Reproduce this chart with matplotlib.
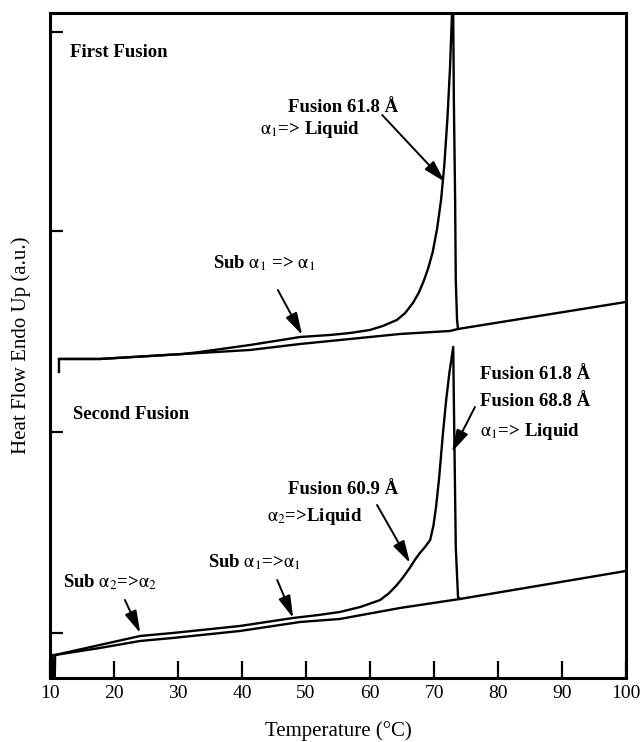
#------------------------------------------------------------------------------------------
## IMPORT MODULES ##
#------------------------------------------------------------------------------------------

import matplotlib
matplotlib.use("Agg")
import matplotlib.pyplot as plt
import numpy as np

#------------------------------------------------------------------------------------------
## DSC TRACES (temperature in °C, heat flow in arbitrary units) ##
#------------------------------------------------------------------------------------------

## FIRST FUSION ##

# Heat flow curve of the first heating
T_first = [11.4, 11.4, 17.8, 23.0, 30.8, 33.4, 41.25, 45.2, 49.1, 53.75, 56.9, 60.0, 62.0, 64.2,
           65.5, 66.7, 67.6, 68.4, 69.1, 69.8, 70.5, 71.1, 71.6, 72.1, 72.5, 72.8, 73.0, 73.1,
           73.3, 73.4, 73.6, 73.75, 100.0]
H_first = [3.06, 3.19, 3.19, 3.21, 3.24, 3.26, 3.33, 3.37, 3.41, 3.43, 3.45, 3.48, 3.52, 3.58,
           3.65, 3.75, 3.85, 3.97, 4.10, 4.26, 4.50, 4.78, 5.12, 5.60, 6.10, 6.63, 6.63, 5.78,
           4.78, 3.98, 3.58, 3.49, 3.76]

# Baseline drawn under the first heating
T_first_base = [11.4, 17.8, 23.0, 30.8, 41.25, 49.1, 56.9, 64.7, 72.5, 73.75]
H_first_base = [3.19, 3.19, 3.21, 3.24, 3.28, 3.34, 3.39, 3.44, 3.47, 3.49]

## SECOND FUSION ##

T_second = [10.4, 10.45, 10.75, 10.8, 17.8, 24.1, 29.2, 39.7, 48.0, 52.0, 55.3, 58.5, 61.6,
            63.0, 64.2, 65.2, 66.2, 67.0, 67.8, 68.6, 69.4, 69.9, 70.3, 70.8, 71.4, 71.9,
            72.4, 73.0, 73.1, 73.4, 73.75, 74.06, 100.0]
H_second = [0.23, 0.0, 0.02, 0.23, 0.33, 0.42, 0.45, 0.52, 0.60, 0.63, 0.66, 0.71, 0.78,
            0.85, 0.93, 1.01, 1.10, 1.18, 1.25, 1.31, 1.38, 1.52, 1.70, 2.00, 2.45, 2.78,
            3.05, 3.31, 2.78, 1.31, 0.81, 0.79, 1.07]

T_second_base = [10.8, 17.8, 24.1, 29.2, 39.7, 49.1, 55.3, 64.7, 74.06]
H_second_base = [0.23, 0.30, 0.37, 0.40, 0.47, 0.56, 0.59, 0.70, 0.79]

# Axis ticks
x_ticks = [10, 20, 30, 40, 50, 60, 70, 80, 90, 100]
y_ticks = [0.45, 2.46, 4.47, 6.46]

#------------------------------------------------------------------------------------------
## PLOT ##
#------------------------------------------------------------------------------------------

plt.rcParams['font.family'] = ['Liberation Serif', 'DejaVu Serif']
plt.rcParams['mathtext.fontset'] = 'stix'

fig = plt.figure(figsize=(6.42, 7.42), dpi=100)
ax = fig.add_axes([0.0779, 0.0863, 0.8972, 0.8962])

lw = 1.7
ax.plot(T_first, H_first, color='black', lw=lw, solid_joinstyle='round')
ax.plot(T_first_base, H_first_base, color='black', lw=lw)
ax.plot(T_second, H_second, color='black', lw=lw, solid_joinstyle='round')
ax.plot(T_second_base, H_second_base, color='black', lw=lw)

ax.set_xlim(10, 100)
ax.set_ylim(0, 6.65)
ax.set_xticks(x_ticks)
ax.set_yticks(y_ticks)
ax.set_yticklabels([])
ax.tick_params(axis='x', direction='in', length=12, width=1.6, labelsize=14, pad=5)
ax.tick_params(axis='y', direction='in', length=9.5, width=1.6)
for spine in ax.spines.values():
    spine.set_linewidth(2.2)

ax.set_xlabel("Temperature (°C)", fontsize=15, labelpad=14)
ax.set_ylabel("Heat Flow Endo Up (a.u.)", fontsize=15, labelpad=10)

## ANNOTATIONS ##

txt = dict(fontsize=13.5, fontweight='bold', ha='left', va='center')
arrow = dict(arrowstyle='-|>,head_length=0.9,head_width=0.25', color='black', lw=1.4,
             mutation_scale=15, shrinkA=0, shrinkB=0)

ax.text(13.1, 6.25, "First Fusion", **txt)
ax.text(47.2, 5.70, "Fusion 61.8 Å", **txt)
ax.text(42.8, 5.48, r"$\mathrm{\alpha}_1$=> Liquid", **txt)
ax.annotate("", xy=(71.7, 4.96), xytext=(61.9, 5.63), arrowprops=arrow)

ax.text(35.5, 4.15, r"Sub $\mathrm{\alpha}_1$ => $\mathrm{\alpha}_1$", **txt)
ax.annotate("", xy=(49.4, 3.43), xytext=(45.6, 3.88), arrowprops=arrow)

ax.text(13.6, 2.63, "Second Fusion", **txt)
ax.text(77.2, 3.03, "Fusion 61.8 Å", **txt)
ax.text(77.2, 2.76, "Fusion 68.8 Å", **txt)
ax.text(77.2, 2.46, r"$\mathrm{\alpha}_1$=> Liquid", **txt)
ax.annotate("", xy=(72.8, 2.26), xytext=(76.4, 2.71), arrowprops=arrow)

ax.text(47.2, 1.88, "Fusion 60.9 Å", **txt)
ax.text(43.9, 1.61, r"$\mathrm{\alpha}_2$=>Liquid", **txt)
ax.annotate("", xy=(66.25, 1.15), xytext=(61.1, 1.73), arrowprops=arrow)

ax.text(34.7, 1.16, r"Sub $\mathrm{\alpha}_1$=>$\mathrm{\alpha}_1$", **txt)
ax.annotate("", xy=(48.0, 0.60), xytext=(45.5, 0.98), arrowprops=arrow)

ax.text(12.0, 0.96, r"Sub $\mathrm{\alpha}_2$=>$\mathrm{\alpha}_2$", **txt)
ax.annotate("", xy=(24.1, 0.45), xytext=(21.7, 0.78), arrowprops=arrow)

plt.savefig("out.png", dpi=100)
